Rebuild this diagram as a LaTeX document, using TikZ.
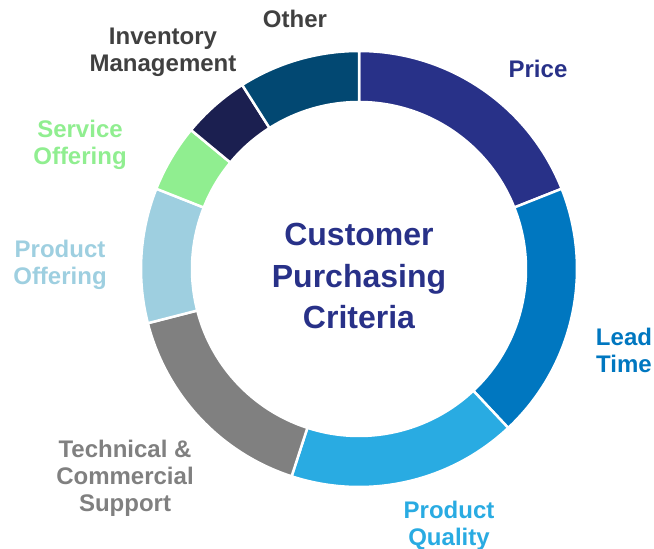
\documentclass[tikz,border=0pt]{standalone}
\usepackage{fontspec}
\setmainfont{Liberation Sans}
\usepackage{xcolor}
\definecolor{pricecol}{HTML}{283188}
\definecolor{leadcol}{HTML}{0077C0}
\definecolor{qualcol}{HTML}{29ABE2}
\definecolor{techcol}{HTML}{808080}
\definecolor{offercol}{HTML}{9ECFE0}
\definecolor{servcol}{HTML}{90EE90}
\definecolor{invcol}{HTML}{1B1F50}
\definecolor{othcol}{HTML}{024872}
\definecolor{labgray}{HTML}{404040}
\newcommand{\ringpart}[3]{\draw[white,line width=2.5pt,fill=#1] (#2:\rout) arc (#2:#3:\rout) -- (#3:\rin) arc (#3:#2:\rin) -- cycle;}
\tikzset{lab/.style={font=\bfseries\fontsize{24}{27}\selectfont,align=center}}

\begin{document}
\begin{tikzpicture}[x=1pt,y=1pt]
        \useasboundingbox (0,0) rectangle (654,549);
        \pgfmathsetmacro{\rout}{218}
        \pgfmathsetmacro{\rin}{167}
        \begin{scope}[shift={(359,280)},x=1pt,y=1pt]
          \foreach \c/\a/\b in {pricecol/21.6/90,leadcol/-46.8/21.6,qualcol/-108/-46.8,
            techcol/-165.6/-108,offercol/158.4/194.4,servcol/140.4/158.4,
            invcol/122.4/140.4,othcol/90/122.4}
            {\ringpart{\c}{\a}{\b}}
        \end{scope}
        \node[pricecol,font=\bfseries\fontsize{32}{41.5}\selectfont,align=center] (title) at (359,273) {Customer\\Purchasing\\Criteria};
        \node[lab,pricecol] (price) at (538,480) {Price};
        \node[lab,leadcol] (lead) at (624,199) {Lead\\Time};
        \node[lab,qualcol] (quality) at (449,23) {Product\\Quality};
        \node[lab,techcol] (tech) at (125,71) {Technical \&\\Commercial\\Support};
        \node[lab,offercol] (offer) at (60,284) {Product\\Offering};
        \node[lab,servcol] (serv) at (80,404) {Service\\Offering};
        \node[lab,labgray] (inv) at (163,497) {Inventory\\Management};
        \node[lab,labgray] (other) at (295,530) {Other};
      \end{tikzpicture}
\end{document}
